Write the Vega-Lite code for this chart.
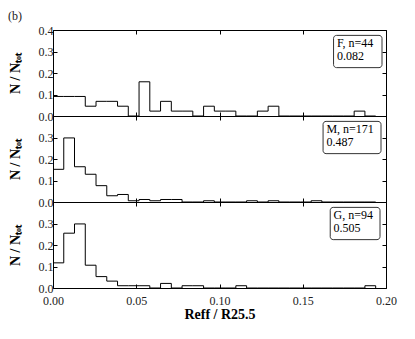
{
  "$schema": "https://vega.github.io/schema/vega-lite/v6.json",
  "padding": {"left": 8, "top": 10, "right": 5, "bottom": 5},
  "background": "white",
  "bounds": "flush",
  "datasets": {
    "F": [
      {"x": 0, "n": 0.0909}, {"x": 0.00646, "n": 0.0909}, {"x": 0.01292, "n": 0.0909}, {"x": 0.01938, "n": 0.0455},
      {"x": 0.02584, "n": 0.0682}, {"x": 0.0323, "n": 0.0682}, {"x": 0.03876, "n": 0.0455}, {"x": 0.04522, "n": 0},
      {"x": 0.05168, "n": 0.1591}, {"x": 0.05814, "n": 0.0227}, {"x": 0.0646, "n": 0.0682}, {"x": 0.07106, "n": 0.0227},
      {"x": 0.07752, "n": 0.0227}, {"x": 0.08398, "n": 0}, {"x": 0.09044, "n": 0.0455}, {"x": 0.0969, "n": 0.0227},
      {"x": 0.10336, "n": 0.0227}, {"x": 0.10982, "n": 0}, {"x": 0.11628, "n": 0}, {"x": 0.12274, "n": 0.0227},
      {"x": 0.1292, "n": 0.0455}, {"x": 0.13566, "n": 0}, {"x": 0.14212, "n": 0}, {"x": 0.14858, "n": 0},
      {"x": 0.15504, "n": 0}, {"x": 0.1615, "n": 0}, {"x": 0.16796, "n": 0}, {"x": 0.17442, "n": 0},
      {"x": 0.18088, "n": 0.0227}, {"x": 0.18734, "n": 0}, {"x": 0.1938, "n": 0}
    ],
    "M": [
      {"x": 0, "n": 0.152}, {"x": 0.00646, "n": 0.298}, {"x": 0.01292, "n": 0.164}, {"x": 0.01938, "n": 0.129},
      {"x": 0.02584, "n": 0.076}, {"x": 0.0323, "n": 0.029}, {"x": 0.03876, "n": 0.035}, {"x": 0.04522, "n": 0.0058},
      {"x": 0.05168, "n": 0.0117}, {"x": 0.05814, "n": 0.0058}, {"x": 0.0646, "n": 0.0117}, {"x": 0.07106, "n": 0.0117},
      {"x": 0.07752, "n": 0}, {"x": 0.08398, "n": 0}, {"x": 0.09044, "n": 0.0058}, {"x": 0.0969, "n": 0},
      {"x": 0.10336, "n": 0}, {"x": 0.10982, "n": 0}, {"x": 0.11628, "n": 0.0058}, {"x": 0.12274, "n": 0},
      {"x": 0.1292, "n": 0.0058}, {"x": 0.13566, "n": 0}, {"x": 0.14212, "n": 0}, {"x": 0.14858, "n": 0},
      {"x": 0.15504, "n": 0.0058}, {"x": 0.1615, "n": 0}, {"x": 0.16796, "n": 0}, {"x": 0.17442, "n": 0},
      {"x": 0.18088, "n": 0}, {"x": 0.18734, "n": 0}, {"x": 0.1938, "n": 0}
    ],
    "G": [
      {"x": 0, "n": 0.117}, {"x": 0.00646, "n": 0.255}, {"x": 0.01292, "n": 0.298}, {"x": 0.01938, "n": 0.106},
      {"x": 0.02584, "n": 0.053}, {"x": 0.0323, "n": 0.032}, {"x": 0.03876, "n": 0.0106}, {"x": 0.04522, "n": 0.0106},
      {"x": 0.05168, "n": 0.0106}, {"x": 0.05814, "n": 0}, {"x": 0.0646, "n": 0.0213}, {"x": 0.07106, "n": 0},
      {"x": 0.07752, "n": 0.0106}, {"x": 0.08398, "n": 0.0106}, {"x": 0.09044, "n": 0}, {"x": 0.0969, "n": 0},
      {"x": 0.10336, "n": 0}, {"x": 0.10982, "n": 0.0106}, {"x": 0.11628, "n": 0}, {"x": 0.12274, "n": 0},
      {"x": 0.1292, "n": 0}, {"x": 0.13566, "n": 0}, {"x": 0.14212, "n": 0}, {"x": 0.14858, "n": 0},
      {"x": 0.15504, "n": 0}, {"x": 0.1615, "n": 0}, {"x": 0.16796, "n": 0}, {"x": 0.17442, "n": 0},
      {"x": 0.18088, "n": 0}, {"x": 0.18734, "n": 0.0106}, {"x": 0.1938, "n": 0}
    ]
  },
  "spacing": 0,
  "vconcat": [
    {
      "width": 333, "height": 86,
      "title": {"text": "(b)", "anchor": "start", "fontSize": 12, "font": "Liberation Serif", "fontWeight": "normal", "offset": 1, "color": "#222"},
      "layer": [
        {
          "data": {"name": "F"},
          "mark": {"type": "line", "interpolate": "step-after", "color": "black", "strokeWidth": 1},
          "encoding": {
            "x": {"field": "x", "type": "quantitative", "scale": {"domain": [0, 0.2], "nice": false, "zero": false},
                  "axis": {"orient": "bottom", "values": [0, 0.05, 0.1, 0.15, 0.2], "labels": false, "title": null}},
            "y": {"field": "n", "type": "quantitative", "scale": {"domain": [0, 0.4], "nice": false},
                  "axis": {"orient": "left", "values": [0, 0.1, 0.2, 0.3, 0.4], "format": ".1f", "title": "N / Nₜₒₜ"}}
          }
        },
        {
          "data": {"values": [{}]},
          "mark": {"type": "rect", "fill": "white", "stroke": "#333", "strokeWidth": 1, "cornerRadius": 3},
          "encoding": {
            "x": {"datum": 0.1685, "type": "quantitative", "axis": {"orient": "top", "values": [0, 0.05, 0.1, 0.15, 0.2], "labels": false, "title": null}},
            "x2": {"datum": 0.1976},
            "y": {"datum": 0.375, "type": "quantitative", "axis": {"orient": "right", "values": [0, 0.1, 0.2, 0.3, 0.4], "labels": false, "title": null}},
            "y2": {"datum": 0.225}
          }
        },
        {
          "data": {"values": [{}]},
          "mark": {"type": "text", "text": ["F, n=44", "0.082"], "align": "left", "baseline": "top", "font": "Liberation Serif", "fontSize": 12, "lineHeight": 13, "color": "black"},
          "encoding": {
            "x": {"datum": 0.1705, "type": "quantitative", "axis": null},
            "y": {"datum": 0.362, "type": "quantitative", "axis": null}
          }
        }
      ],
      "resolve": {"axis": {"x": "independent", "y": "independent"}}
    },
    {
      "width": 333, "height": 86,
      "layer": [
        {
          "data": {"name": "M"},
          "mark": {"type": "line", "interpolate": "step-after", "color": "black", "strokeWidth": 1},
          "encoding": {
            "x": {"field": "x", "type": "quantitative", "scale": {"domain": [0, 0.2], "nice": false, "zero": false},
                  "axis": {"orient": "bottom", "values": [0, 0.05, 0.1, 0.15, 0.2], "labels": false, "title": null}},
            "y": {"field": "n", "type": "quantitative", "scale": {"domain": [0, 0.4], "nice": false},
                  "axis": {"orient": "left", "values": [0, 0.1, 0.2, 0.3], "format": ".1f", "title": "N / Nₜₒₜ"}}
          }
        },
        {
          "data": {"values": [{}]},
          "mark": {"type": "rect", "fill": "white", "stroke": "#333", "strokeWidth": 1, "cornerRadius": 3},
          "encoding": {
            "x": {"datum": 0.1622, "type": "quantitative", "axis": {"orient": "top", "values": [0, 0.05, 0.1, 0.15, 0.2], "labels": false, "title": null}},
            "x2": {"datum": 0.197},
            "y": {"datum": 0.375, "type": "quantitative", "axis": {"orient": "right", "values": [0, 0.1, 0.2, 0.3, 0.4], "labels": false, "title": null}},
            "y2": {"datum": 0.225}
          }
        },
        {
          "data": {"values": [{}]},
          "mark": {"type": "text", "text": ["M, n=171", "0.487"], "align": "left", "baseline": "top", "font": "Liberation Serif", "fontSize": 12, "lineHeight": 13, "color": "black"},
          "encoding": {
            "x": {"datum": 0.1642, "type": "quantitative", "axis": null},
            "y": {"datum": 0.362, "type": "quantitative", "axis": null}
          }
        }
      ],
      "resolve": {"axis": {"x": "independent", "y": "independent"}}
    },
    {
      "width": 333, "height": 86,
      "layer": [
        {
          "data": {"name": "G"},
          "mark": {"type": "line", "interpolate": "step-after", "color": "black", "strokeWidth": 1},
          "encoding": {
            "x": {"field": "x", "type": "quantitative", "scale": {"domain": [0, 0.2], "nice": false, "zero": false},
                  "axis": {"orient": "bottom", "values": [0, 0.05, 0.1, 0.15, 0.2], "format": ".2f", "title": "Reff / R25.5", "labelPadding": 11, "titlePadding": 1}},
            "y": {"field": "n", "type": "quantitative", "scale": {"domain": [0, 0.4], "nice": false},
                  "axis": {"orient": "left", "values": [0, 0.1, 0.2, 0.3], "format": ".1f", "title": "N / Nₜₒₜ"}}
          }
        },
        {
          "data": {"values": [{}]},
          "mark": {"type": "rect", "fill": "white", "stroke": "#333", "strokeWidth": 1, "cornerRadius": 3},
          "encoding": {
            "x": {"datum": 0.1665, "type": "quantitative", "axis": {"orient": "top", "values": [0, 0.05, 0.1, 0.15, 0.2], "labels": false, "title": null}},
            "x2": {"datum": 0.1964},
            "y": {"datum": 0.375, "type": "quantitative", "axis": {"orient": "right", "values": [0, 0.1, 0.2, 0.3, 0.4], "labels": false, "title": null}},
            "y2": {"datum": 0.225}
          }
        },
        {
          "data": {"values": [{}]},
          "mark": {"type": "text", "text": ["G, n=94", "0.505"], "align": "left", "baseline": "top", "font": "Liberation Serif", "fontSize": 12, "lineHeight": 13, "color": "black"},
          "encoding": {
            "x": {"datum": 0.1685, "type": "quantitative", "axis": null},
            "y": {"datum": 0.362, "type": "quantitative", "axis": null}
          }
        }
      ],
      "resolve": {"axis": {"x": "independent", "y": "independent"}}
    }
  ],
  "config": {
    "view": {"stroke": null},
    "axis": {
      "grid": false,
      "domainColor": "black",
      "domainWidth": 1,
      "tickColor": "black",
      "tickSize": -4,
      "labelPadding": 4,
      "labelFont": "Liberation Serif",
      "labelFontSize": 12,
      "labelColor": "#222",
      "titleFont": "Liberation Serif",
      "titleFontSize": 14,
      "titleFontWeight": "bold",
      "titleColor": "black",
      "titlePadding": 16,
      "labelFlush": false,
      "labelOverlap": false
    }
  }
}
